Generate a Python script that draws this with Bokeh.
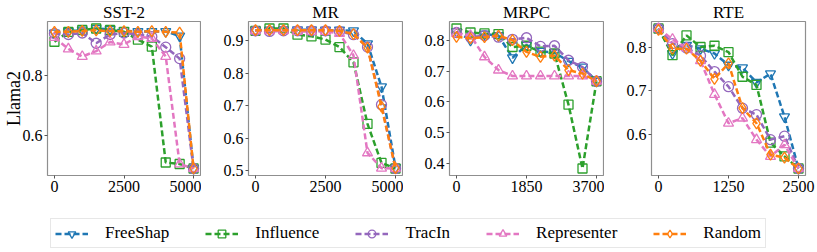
from bokeh.plotting import figure
from bokeh.layouts import column, row
from bokeh.models import (FixedTicker, PrintfTickFormatter, Legend, LegendItem,
                          Range1d)
from bokeh.embed import file_html
from bokeh.resources import INLINE

methods = ["FreeShap", "Influence", "TracIn", "Representer", "Random"]
colors = ["#1f77b4", "#2ca02c", "#9467bd", "#e377c2", "#ff7f0e"]
markers = ["inverted_triangle", "square", "circle", "triangle", "diamond"]
marker_sizes = [10, 9, 10, 10, 11]

titles = ["SST-2", "MR", "MRPC", "RTE"]

sst2_x = [0, 500, 1000, 1500, 2000, 2500, 3000, 3500, 4000, 4500, 5000]
sst2_freeshap = [0.940, 0.945, 0.950, 0.955, 0.952, 0.948, 0.945, 0.945, 0.945, 0.930, 0.490]
sst2_influence = [0.911, 0.944, 0.950, 0.955, 0.950, 0.944, 0.918, 0.895, 0.510, 0.505, 0.490]
sst2_tracin = [0.938, 0.935, 0.940, 0.906, 0.935, 0.940, 0.935, 0.928, 0.893, 0.855, 0.490]
sst2_representer = [0.925, 0.887, 0.862, 0.880, 0.910, 0.902, 0.928, 0.922, 0.862, 0.505, 0.490]
sst2_random = [0.944, 0.944, 0.947, 0.949, 0.946, 0.946, 0.944, 0.946, 0.944, 0.941, 0.490]
sst2_xticks = [0, 2500, 5000]
sst2_yticks = [0.6, 0.8]

mr_x = [0, 500, 1000, 1500, 2000, 2500, 3000, 3500, 4000, 4500, 5000]
mr_freeshap = [0.932, 0.932, 0.933, 0.933, 0.933, 0.932, 0.932, 0.930, 0.890, 0.758, 0.510]
mr_influence = [0.930, 0.937, 0.937, 0.918, 0.913, 0.903, 0.880, 0.833, 0.644, 0.524, 0.507]
mr_tracin = [0.930, 0.928, 0.930, 0.930, 0.930, 0.930, 0.928, 0.918, 0.880, 0.703, 0.507]
mr_representer = [0.930, 0.930, 0.930, 0.928, 0.928, 0.928, 0.922, 0.854, 0.555, 0.508, 0.507]
mr_random = [0.932, 0.932, 0.932, 0.932, 0.932, 0.932, 0.930, 0.920, 0.878, 0.697, 0.508]
mr_xticks = [0, 2500, 5000]
mr_yticks = [0.5, 0.6, 0.7, 0.8, 0.9]

mrpc_x = [0, 370, 740, 1110, 1480, 1850, 2220, 2590, 2960, 3330, 3700]
mrpc_freeshap = [0.828, 0.800, 0.820, 0.815, 0.743, 0.784, 0.764, 0.760, 0.732, 0.713, 0.667]
mrpc_influence = [0.838, 0.825, 0.822, 0.820, 0.778, 0.782, 0.763, 0.757, 0.591, 0.384, 0.667]
mrpc_tracin = [0.825, 0.810, 0.815, 0.810, 0.803, 0.808, 0.780, 0.782, 0.735, 0.713, 0.667]
mrpc_representer = [0.822, 0.815, 0.746, 0.703, 0.684, 0.684, 0.684, 0.684, 0.684, 0.684, 0.667]
mrpc_random = [0.811, 0.806, 0.810, 0.815, 0.800, 0.762, 0.746, 0.750, 0.703, 0.692, 0.667]
mrpc_xticks = [0, 1850, 3700]
mrpc_yticks = [0.4, 0.5, 0.6, 0.7, 0.8]

rte_x = [0, 250, 500, 750, 1000, 1250, 1500, 1750, 2000, 2250, 2500]
rte_freeshap = [0.845, 0.787, 0.806, 0.798, 0.787, 0.760, 0.754, 0.720, 0.740, 0.640, 0.520]
rte_influence = [0.845, 0.783, 0.829, 0.802, 0.805, 0.790, 0.733, 0.714, 0.580, 0.548, 0.520]
rte_tracin = [0.845, 0.810, 0.800, 0.782, 0.745, 0.710, 0.660, 0.645, 0.587, 0.595, 0.520]
rte_representer = [0.845, 0.820, 0.800, 0.770, 0.692, 0.625, 0.637, 0.587, 0.548, 0.575, 0.520]
rte_random = [0.842, 0.798, 0.798, 0.770, 0.728, 0.764, 0.660, 0.625, 0.552, 0.545, 0.520]
rte_xticks = [0, 1250, 2500]
rte_yticks = [0.6, 0.7, 0.8]

panels = [
    (sst2_x, [sst2_freeshap, sst2_influence, sst2_tracin, sst2_representer, sst2_random], sst2_xticks, sst2_yticks),
    (mr_x, [mr_freeshap, mr_influence, mr_tracin, mr_representer, mr_random], mr_xticks, mr_yticks),
    (mrpc_x, [mrpc_freeshap, mrpc_influence, mrpc_tracin, mrpc_representer, mrpc_random], mrpc_xticks, mrpc_yticks),
    (rte_x, [rte_freeshap, rte_influence, rte_tracin, rte_representer, rte_random], rte_xticks, rte_yticks),
]

FONT = "Liberation Serif"
FRAME_W = 154
TOP, BOTTOM, H = 19, 35, 210
geom = [(46, 1), (47, 1), (46, 1), (47, 12)]  # (left border, right border)

figs = []
for i, (xs, series, xt, yt) in enumerate(panels):
    left, right = geom[i]
    allv = [v for s in series for v in s]
    mn, mx = min(allv), max(allv)
    pad = 0.05 * (mx - mn)
    xpad = 0.05 * (xs[-1] - xs[0])
    p = figure(width=left + FRAME_W + right, height=H,
               x_range=Range1d(xs[0] - xpad, xs[-1] + xpad),
               y_range=Range1d(mn - pad, mx + pad),
               output_backend="svg", toolbar_location=None,
               min_border_left=left, min_border_right=right,
               min_border_top=TOP, min_border_bottom=BOTTOM,
               background_fill_color="white", border_fill_color="white",
               outline_line_color="#8f8f8f", outline_line_width=1.2)
    p.title.text = titles[i]
    p.title.align = "center"
    p.title.text_font = FONT
    p.title.text_font_size = "17px"
    p.title.text_font_style = "normal"
    p.title.text_color = "black"
    p.title.standoff = 0
    p.title.offset = 0
    p.grid.visible = False
    for ax in (p.xaxis[0], p.yaxis[0]):
        ax.axis_line_color = None
        ax.major_tick_line_color = "#555555"
        ax.major_tick_out = 3
        ax.major_tick_in = 0
        ax.minor_tick_line_color = None
        ax.major_label_text_font = FONT
        ax.major_label_text_font_size = "16px"
        ax.major_label_text_color = "black"
        ax.major_label_standoff = 2
    p.xaxis.ticker = FixedTicker(ticks=xt)
    p.yaxis.ticker = FixedTicker(ticks=yt)
    p.yaxis.formatter = PrintfTickFormatter(format="%.1f")
    if i == 0:
        p.yaxis.axis_label = "Llama2"
        p.yaxis.axis_label_text_font = FONT
        p.yaxis.axis_label_text_font_size = "18px"
        p.yaxis.axis_label_text_font_style = "normal"
        p.yaxis.axis_label_text_color = "black"
        p.yaxis.axis_label_standoff = -4
    for s, c, m, ms in zip(series, colors, markers, marker_sizes):
        p.line(xs, s, line_color=c, line_width=2.5, line_dash="6 3")
        p.scatter(xs, s, marker=m, size=ms, line_color=c, line_width=1.3,
                  fill_color=None)
    figs.append(p)

# Legend figure: the series are drawn with a y range far away from the data,
# so only the legend box is visible.
lp = figure(width=817, height=42, output_backend="svg", toolbar_location=None,
            x_axis_type=None, y_axis_type=None, min_border=0,
            outline_line_color=None, x_range=Range1d(0, 1), y_range=Range1d(10, 11),
            background_fill_color="white", border_fill_color="white")
lp.grid.visible = False
items = []
for name, s, c, m, ms in zip(methods, panels[0][1], colors, markers, marker_sizes):
    rl = lp.line(sst2_x, s, line_color=c, line_width=2.5, line_dash="6 3")
    rs = lp.scatter(sst2_x, s, marker=m, size=ms - 3, line_color=c,
                    line_width=1.3, fill_color=None)
    items.append(LegendItem(label=name, renderers=[rl, rs]))
legend = Legend(items=items, orientation="horizontal", location=(50, 4),
                label_text_font=FONT, label_text_font_size="17px",
                label_text_color="black", glyph_width=33, glyph_height=19,
                label_height=19, label_standoff=17, spacing=36, padding=4,
                margin=0, border_line_color="#d0d0d0", border_line_width=1,
                background_fill_color="white", background_fill_alpha=1)
lp.add_layout(legend)

layout = column(row(*figs, spacing=0), lp, spacing=0)
open("out.html", "w").write(file_html(layout, INLINE))
